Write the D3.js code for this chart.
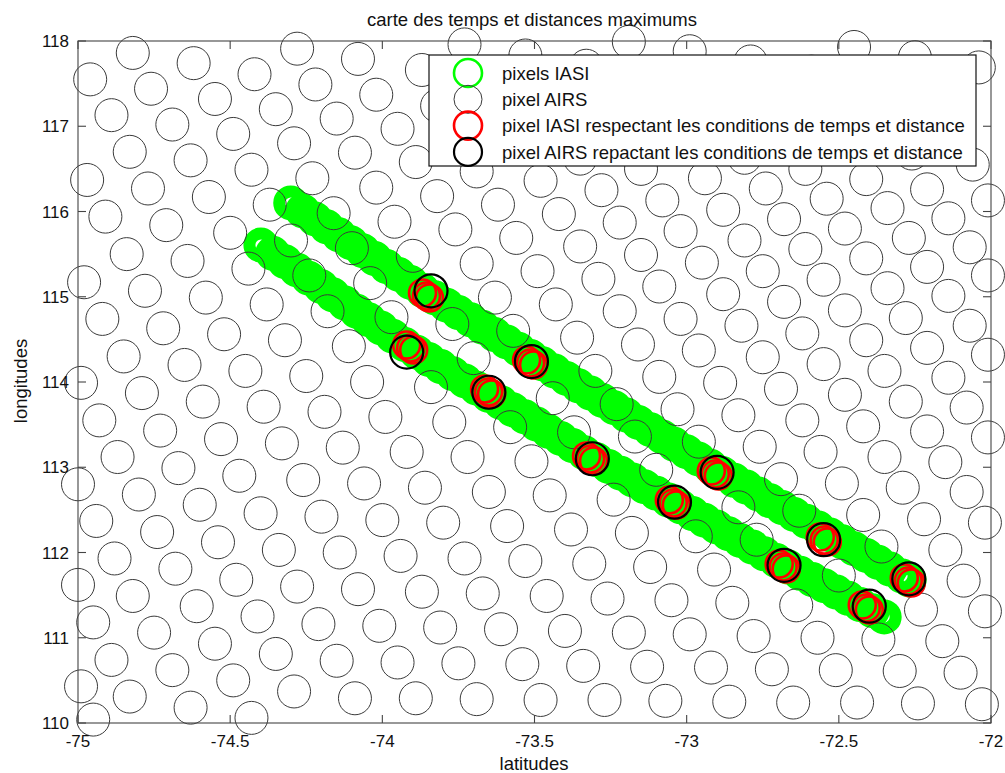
<!DOCTYPE html>
<html>
<head>
<meta charset="utf-8">
<script src="https://cdn.jsdelivr.net/npm/d3@7"></script>
<style>
  html, body { margin: 0; padding: 0; background: #fff; }
  text { font-family: "Liberation Sans", Arial, Helvetica, sans-serif; fill: #111; }
</style>
</head>
<body>
<svg id="chart"></svg>
<script>
// axis ticks
var latTicks = [-75, -74.5, -74, -73.5, -73, -72.5, -72];
var lonTicks = [110, 111, 112, 113, 114, 115, 116, 117, 118];

// AIRS footprints, one array per scan row (lat / lon)
var airsLatRows = [
  [-72.45, -72.25, -72.04],
  [-73.19, -72.99, -72.79, -72.59, -72.38, -72.18],
  [-73.73, -73.53, -73.33, -73.13, -72.93, -72.73, -72.52, -72.32, -72.12],
  [-74.28, -74.08, -73.87, -73.67, -73.47, -73.27, -73.07, -72.86, -72.66, -72.46, -72.26, -72.06],
  [-74.82, -74.62, -74.42, -74.22, -74.02, -73.82, -73.61, -73.41, -73.21, -73.01, -72.81, -72.61, -72.41, -72.21, -72.01],
  [-74.96, -74.76, -74.55, -74.35, -74.15, -73.95, -73.75, -73.55, -73.35, -73.15, -72.94, -72.74, -72.54, -72.34, -72.14],
  [-74.89, -74.69, -74.49, -74.29, -74.09, -73.89, -73.69, -73.48, -73.28, -73.08, -72.88, -72.68, -72.48, -72.27, -72.07],
  [-74.83, -74.63, -74.43, -74.23, -74.02, -73.82, -73.62, -73.42, -73.22, -73.02, -72.81, -72.61, -72.41, -72.21, -72.01],
  [-74.97, -74.77, -74.57, -74.37, -74.16, -73.96, -73.76, -73.56, -73.35, -73.15, -72.95, -72.75, -72.55, -72.34, -72.14],
  [-74.91, -74.71, -74.50, -74.30, -74.10, -73.90, -73.69, -73.49, -73.29, -73.09, -72.88, -72.68, -72.48, -72.28, -72.07],
  [-74.84, -74.64, -74.44, -74.24, -74.04, -73.84, -73.63, -73.43, -73.22, -73.02, -72.82, -72.62, -72.41, -72.21, -72.01],
  [-74.98, -74.78, -74.58, -74.38, -74.18, -73.97, -73.77, -73.57, -73.36, -73.16, -72.96, -72.75, -72.55, -72.35, -72.14],
  [-74.92, -74.72, -74.52, -74.32, -74.11, -73.92, -73.70, -73.51, -73.30, -73.09, -72.89, -72.69, -72.48, -72.28, -72.08],
  [-74.85, -74.65, -74.45, -74.25, -74.05, -73.84, -73.65, -73.44, -73.23, -73.03, -72.83, -72.62, -72.42, -72.21, -72.01],
  [-74.99, -74.79, -74.59, -74.39, -74.19, -73.99, -73.78, -73.58, -73.37, -73.17, -72.96, -72.76, -72.56, -72.35, -72.15],
  [-74.93, -74.73, -74.53, -74.33, -74.13, -73.92, -73.72, -73.51, -73.31, -73.10, -72.90, -72.69, -72.49, -72.29, -72.08],
  [-74.87, -74.67, -74.47, -74.26, -74.06, -73.86, -73.65, -73.45, -73.24, -73.04, -72.83, -72.63, -72.42, -72.22, -72.02],
  [-75.00, -74.80, -74.60, -74.40, -74.20, -74.00, -73.80, -73.59, -73.38, -73.18, -72.97, -72.77, -72.55, -72.36, -72.15],
  [-74.94, -74.74, -74.54, -74.34, -74.14, -73.94, -73.73, -73.53, -73.32, -73.12, -72.91, -72.68, -72.50, -72.27, -72.09],
  [-74.88, -74.68, -74.48, -74.28, -74.08, -73.87, -73.67, -73.46, -73.26, -73.05, -72.85, -72.64, -72.40, -72.23, -72.02],
  [-75.00, -74.82, -74.61, -74.41, -74.21, -74.01, -73.81, -73.61, -73.40, -73.19, -72.99, -72.78, -72.57, -72.37, -72.16],
  [-74.95, -74.75, -74.55, -74.35, -74.15, -73.95, -73.75, -73.54, -73.34, -73.13, -72.92, -72.72, -72.51, -72.30, -72.10],
  [-74.89, -74.69, -74.49, -74.29, -74.09, -73.89, -73.69, -73.48, -73.27, -73.07, -72.86, -72.65, -72.44, -72.24, -72.03],
  [-74.99, -74.83, -74.63, -74.43],
  [-74.95]
];
var airsLonRows = [
  [117.93, 117.81, 117.69],
  [117.99, 117.88, 117.76, 117.64, 117.51, 117.39],
  [117.96, 117.83, 117.71, 117.59, 117.47, 117.34, 117.22, 117.10, 116.97],
  [117.91, 117.79, 117.66, 117.54, 117.42, 117.29, 117.17, 117.05, 116.92, 116.80, 116.68, 116.55],
  [117.86, 117.74, 117.61, 117.49, 117.37, 117.24, 117.12, 117.00, 116.87, 116.75, 116.63, 116.50, 116.38, 116.26, 116.13],
  [117.55, 117.44, 117.32, 117.20, 117.09, 116.97, 116.85, 116.74, 116.62, 116.50, 116.39, 116.27, 116.15, 116.04, 115.92],
  [117.13, 117.02, 116.91, 116.80, 116.69, 116.58, 116.47, 116.36, 116.25, 116.13, 116.02, 115.91, 115.80, 115.69, 115.58],
  [116.70, 116.60, 116.49, 116.39, 116.28, 116.18, 116.08, 115.97, 115.87, 115.77, 115.66, 115.56, 115.45, 115.35, 115.25],
  [116.37, 116.27, 116.17, 116.08, 115.98, 115.88, 115.79, 115.69, 115.59, 115.49, 115.40, 115.30, 115.20, 115.10, 115.01],
  [115.94, 115.84, 115.75, 115.66, 115.57, 115.48, 115.39, 115.30, 115.21, 115.12, 115.03, 114.94, 114.84, 114.75, 114.66],
  [115.50, 115.42, 115.33, 115.25, 115.16, 115.07, 114.99, 114.91, 114.83, 114.74, 114.66, 114.57, 114.49, 114.40, 114.32],
  [115.17, 115.07, 114.99, 114.91, 114.83, 114.76, 114.68, 114.60, 114.52, 114.44, 114.37, 114.29, 114.21, 114.13, 114.05],
  [114.74, 114.63, 114.56, 114.49, 114.42, 114.35, 114.28, 114.24, 114.13, 114.06, 113.99, 113.92, 113.85, 113.77, 113.70],
  [114.30, 114.20, 114.13, 114.07, 114.00, 113.94, 113.88, 113.81, 113.74, 113.68, 113.61, 113.55, 113.48, 113.42, 113.35],
  [113.99, 113.87, 113.77, 113.71, 113.65, 113.59, 113.53, 113.47, 113.41, 113.36, 113.30, 113.24, 113.18, 113.12, 113.06],
  [113.55, 113.43, 113.33, 113.28, 113.23, 113.18, 113.12, 113.07, 113.10, 112.97, 112.94, 112.86, 112.81, 112.76, 112.71],
  [113.12, 112.99, 112.90, 112.85, 112.81, 112.76, 112.71, 112.67, 112.62, 112.59, 112.53, 112.49, 112.44, 112.39, 112.35],
  [112.80, 112.68, 112.56, 112.46, 112.42, 112.38, 112.35, 112.31, 112.27, 112.23, 112.19, 112.15, 112.15, 112.07, 112.03],
  [112.37, 112.24, 112.12, 112.03, 112.00, 111.96, 111.93, 111.90, 111.87, 111.83, 111.80, 111.85, 111.73, 111.69, 111.67],
  [111.93, 111.81, 111.68, 111.60, 111.57, 111.54, 111.52, 111.49, 111.46, 111.44, 111.41, 111.38, 111.37, 111.33, 111.31],
  [111.62, 111.49, 111.37, 111.25, 111.16, 111.14, 111.12, 111.10, 111.08, 111.06, 111.04, 111.02, 111.00, 110.98, 110.96],
  [111.18, 111.06, 110.93, 110.81, 110.73, 110.71, 110.70, 110.69, 110.67, 110.66, 110.65, 110.63, 110.62, 110.61, 110.59],
  [110.74, 110.62, 110.50, 110.37, 110.29, 110.29, 110.28, 110.27, 110.27, 110.26, 110.25, 110.24, 110.24, 110.23, 110.22],
  [110.43, 110.31, 110.18, 110.06],
  [110.04]
];

// IASI pixels, two swaths
var iasiLatA = [-74.301, -74.262, -74.222, -74.183, -74.143, -74.104, -74.065, -74.025, -73.986, -73.946,
  -73.907, -73.868, -73.828, -73.789, -73.750, -73.710, -73.671, -73.631, -73.592, -73.553,
  -73.513, -73.474, -73.434, -73.395, -73.356, -73.316, -73.277, -73.238, -73.198, -73.159,
  -73.119, -73.080, -73.041, -73.001, -72.962, -72.922, -72.883, -72.844, -72.804, -72.765,
  -72.726, -72.686, -72.647, -72.607, -72.568, -72.529, -72.489, -72.450, -72.410, -72.371,
  -72.332, -72.292, -72.269];
var iasiLonA = [116.100, 116.007, 115.913, 115.820, 115.727, 115.634, 115.541, 115.448, 115.354, 115.261,
  115.168, 115.075, 114.987, 114.901, 114.815, 114.729, 114.643, 114.557, 114.471, 114.385,
  114.300, 114.214, 114.128, 114.042, 113.956, 113.870, 113.784, 113.698, 113.612, 113.526,
  113.440, 113.355, 113.269, 113.183, 113.097, 113.011, 112.928, 112.847, 112.767, 112.687,
  112.607, 112.527, 112.446, 112.366, 112.286, 112.206, 112.126, 112.045, 111.965, 111.885,
  111.805, 111.724, 111.678];
var iasiLatB = [-74.399, -74.360, -74.320, -74.281, -74.242, -74.202, -74.163, -74.123, -74.084, -74.045,
  -74.005, -73.966, -73.926, -73.887, -73.848, -73.808, -73.769, -73.729, -73.690, -73.651,
  -73.611, -73.572, -73.532, -73.493, -73.454, -73.414, -73.375, -73.336, -73.296, -73.257,
  -73.217, -73.178, -73.139, -73.099, -73.060, -73.020, -72.981, -72.942, -72.902, -72.863,
  -72.824, -72.784, -72.745, -72.705, -72.666, -72.627, -72.587, -72.548, -72.508, -72.469,
  -72.430, -72.390, -72.351];
var iasiLonB = [115.607, 115.510, 115.412, 115.315, 115.218, 115.121, 115.023, 114.926, 114.829, 114.731,
  114.634, 114.537, 114.439, 114.350, 114.265, 114.181, 114.097, 114.012, 113.928, 113.844,
  113.760, 113.675, 113.591, 113.507, 113.422, 113.338, 113.254, 113.170, 113.088, 113.009,
  112.930, 112.851, 112.772, 112.694, 112.615, 112.536, 112.457, 112.379, 112.300, 112.221,
  112.142, 112.064, 111.985, 111.906, 111.829, 111.756, 111.683, 111.610, 111.536, 111.463,
  111.390, 111.317, 111.244];

// IASI pixels meeting the time / distance conditions
var iasiOkLat = [-73.868, -73.855, -73.845, -73.920, -73.907, -73.897, -73.526, -73.513, -73.503,
  -73.664, -73.651, -73.641, -73.329, -73.316, -73.306, -72.919, -72.906, -72.896,
  -73.057, -73.044, -73.034, -72.561, -72.548, -72.538, -72.696, -72.683, -72.673,
  -72.285, -72.272, -72.262, -72.423, -72.410, -72.400];
var iasiOkLon = [115.044, 115.009, 114.986, 114.434, 114.399, 114.376, 114.258, 114.223, 114.200,
  113.918, 113.883, 113.860, 113.132, 113.097, 113.074, 112.956, 112.921, 112.898,
  112.616, 112.581, 112.558, 112.181, 112.146, 112.123, 111.865, 111.830, 111.807,
  111.701, 111.666, 111.643, 111.384, 111.349, 111.326];

// AIRS pixels meeting the conditions
var airsOkLat = [-73.84, -73.92, -73.51, -73.65, -73.31, -72.90, -73.04, -72.55, -72.68, -72.27, -72.40];
var airsOkLon = [115.07, 114.35, 114.24, 113.88, 113.10, 112.94, 112.59, 112.15, 111.85, 111.69, 111.37];

var legendLabels = [
  "pixels IASI",
  "pixel AIRS",
  "pixel IASI respectant les conditions de temps et distance",
  "pixel AIRS repactant les conditions de temps et distance"
];

(function drawMap() {
  var w = 1005, h = 773;
  var pL = 78, pR = 991, pT = 41, pB = 723;

  var svg = d3.select("#chart").attr("width", w).attr("height", h);

  var x = d3.scaleLinear().domain([-75, -72]).range([pL, pR]);
  var y = d3.scaleLinear().domain([110, 118]).range([pB, pT]);

  function pairs(lats, lons) {
    return lats.map(function(d, i) { return {lat: d, lon: lons[i]}; });
  }

  var airs = d3.merge(airsLatRows.map(function(row, r) { return pairs(row, airsLonRows[r]); }));
  var iasi = pairs(iasiLatA, iasiLonA).concat(pairs(iasiLatB, iasiLonB));

  function rings(data, r, color, width) {
    svg.append("g").selectAll("circle").data(data).enter().append("circle")
      .attr("cx", function(d) { return x(d.lat); })
      .attr("cy", function(d) { return y(d.lon); })
      .attr("r", r)
      .attr("fill", "none")
      .attr("stroke", color)
      .attr("stroke-width", width);
  }

  // green swaths, AIRS grid, then the matches on top
  rings(iasi, 11.5, "#00ff00", 12);
  rings(airs, 16.5, "#3a3a3a", 1);
  rings(pairs(iasiOkLat, iasiOkLon), 13.5, "#ff0000", 2.6);
  rings(pairs(airsOkLat, airsOkLon), 16.5, "#000", 2.2);

  // axes box + ticks on all sides, pointing in
  var axes = svg.append("g").attr("stroke", "#444").attr("stroke-width", 1.1);
  axes.append("rect")
    .attr("x", pL).attr("y", pT)
    .attr("width", pR - pL).attr("height", pB - pT)
    .attr("fill", "none");
  axes.selectAll("line.xb").data(latTicks).enter().append("line")
    .attr("x1", function(d) { return x(d); }).attr("x2", function(d) { return x(d); })
    .attr("y1", pB).attr("y2", pB - 8);
  axes.selectAll("line.xt").data(latTicks).enter().append("line")
    .attr("x1", function(d) { return x(d); }).attr("x2", function(d) { return x(d); })
    .attr("y1", pT).attr("y2", pT + 8);
  axes.selectAll("line.yl").data(lonTicks).enter().append("line")
    .attr("y1", function(d) { return y(d); }).attr("y2", function(d) { return y(d); })
    .attr("x1", pL).attr("x2", pL + 8);
  axes.selectAll("line.yr").data(lonTicks).enter().append("line")
    .attr("y1", function(d) { return y(d); }).attr("y2", function(d) { return y(d); })
    .attr("x1", pR).attr("x2", pR - 8);

  // tick labels
  svg.append("g").selectAll("text").data(latTicks).enter().append("text")
    .attr("x", function(d) { return x(d); })
    .attr("y", 747)
    .attr("text-anchor", "middle")
    .attr("font-size", 17)
    .text(function(d) { return d; });
  svg.append("g").selectAll("text").data(lonTicks).enter().append("text")
    .attr("x", 69)
    .attr("y", function(d) { return y(d); })
    .attr("dy", "0.36em")
    .attr("text-anchor", "end")
    .attr("font-size", 17)
    .text(function(d) { return d; });

  // titles
  svg.append("text").attr("x", 532).attr("y", 26)
    .attr("text-anchor", "middle").attr("font-size", 18.5)
    .text("carte des temps et distances maximums");
  svg.append("text").attr("x", 534).attr("y", 770)
    .attr("text-anchor", "middle").attr("font-size", 18.5)
    .text("latitudes");
  svg.append("text").attr("transform", "translate(27,381) rotate(-90)")
    .attr("text-anchor", "middle").attr("font-size", 18.5)
    .text("longitudes");

  // legend
  var legendStyle = [
    {stroke: "#00ff00", width: 2.6},
    {stroke: "#3a3a3a", width: 1},
    {stroke: "#ff0000", width: 2.6},
    {stroke: "#000", width: 2.2}
  ];
  var legend = svg.append("g");
  legend.append("rect")
    .attr("x", 429).attr("y", 55).attr("width", 547).attr("height", 111)
    .attr("fill", "#fff").attr("stroke", "#111").attr("stroke-width", 1.2);
  var item = legend.selectAll("g.item").data(legendLabels).enter().append("g")
    .attr("transform", function(d, i) { return "translate(0," + (73 + i * 26.3) + ")"; });
  item.append("circle")
    .attr("cx", 468).attr("cy", 0).attr("r", 14)
    .attr("fill", "none")
    .attr("stroke", function(d, i) { return legendStyle[i].stroke; })
    .attr("stroke-width", function(d, i) { return legendStyle[i].width; });
  item.append("text")
    .attr("x", 502).attr("dy", "0.36em").attr("font-size", 18.5)
    .text(function(d) { return d; });
})();
</script>
</body>
</html>
